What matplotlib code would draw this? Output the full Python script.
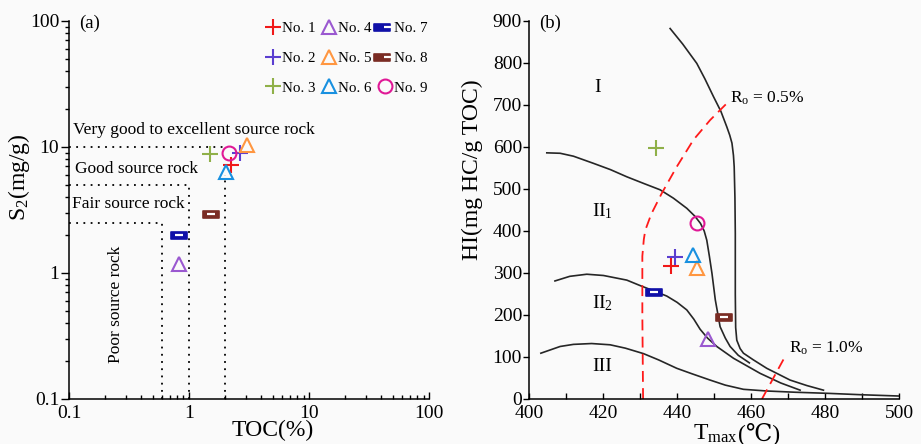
import matplotlib
matplotlib.use('Agg')
import matplotlib.pyplot as plt
from matplotlib.path import Path
from matplotlib.ticker import LogLocator, MultipleLocator, NullFormatter
from matplotlib.legend_handler import HandlerTuple

plt.rcParams['font.family'] = ['Liberation Serif', 'DejaVu Serif', 'DejaVu Sans']
plt.rcParams['mathtext.fontset'] = 'custom'
plt.rcParams['mathtext.rm'] = 'Liberation Serif'
plt.rcParams['mathtext.it'] = 'Liberation Serif:italic'

# samples
names = ['No. 1', 'No. 2', 'No. 3', 'No. 4', 'No. 5', 'No. 6', 'No. 7', 'No. 8', 'No. 9']
toc = [2.22, 2.64, 1.49, 0.82, 3.04, 2.05, 0.83, 1.54, 2.15]      # %
s2 = [7.25, 8.96, 8.87, 1.17, 10.3, 6.32, 1.99, 2.92, 8.96]       # mg/g
tmax = [438.3, 439.3, 434.3, 448.2, 445.3, 444.4, 433.8, 452.7, 445.3]  # degC
hi = [317, 339, 597, 142, 313, 343, 254, 194, 418]               # mg HC/g TOC

# kerogen type boundaries
type1_t = [438.1, 441.5, 445.3, 447.5, 449.8, 451.8, 453.4, 454.2, 454.8, 455.2, 455.4, 455.6,
           455.7, 455.7, 455.8, 456.1, 457.0, 457.9, 460.6, 464.2, 470.5, 475.0, 479.5]
type1_hi = [882, 845, 799, 762, 720, 685, 648, 628, 609, 580, 553, 480,
            394, 250, 170, 140, 120, 109, 93, 73, 45, 32, 21]
type2a_t = [404.8, 408.4, 412.0, 417.4, 422.0, 426.4, 431.0, 435.4, 439.0, 442.6, 444.8, 446.3,
            447.3, 448.0, 448.7, 449.4, 450.3, 451.6, 453.0, 454.3, 456.5, 459.5]
type2a_hi = [586, 585, 578, 561, 546, 529, 513, 498, 478, 454, 435, 418,
             400, 378, 340, 299, 236, 172, 145, 125, 104, 86]
type2b_t = [407.0, 411.0, 415.6, 420.1, 426.4, 430.0, 433.8, 437.2, 440.0, 442.6, 444.5, 446.2,
            448.2, 450.7, 455.2, 462.4, 468.0, 473.2]
type2b_hi = [281, 292, 297, 294, 283, 270, 257, 245, 230, 212, 190, 166,
             145, 125, 97, 61, 38, 21]
type3_t = [403.2, 408.4, 412.0, 416.9, 421.9, 426.0, 430.9, 435.0, 439.9, 444.0, 448.9, 453.0,
           457.9, 464.2, 472.0, 480.5, 490.0, 500.0]
type3_hi = [109, 125, 130, 132, 129, 121, 108, 93, 73, 60, 45, 33,
            23, 19, 16, 13.5, 10, 7]
# vitrinite reflectance lines
ro05_t = [430.8, 430.6, 430.6, 431.0, 431.4, 433.0, 435.8, 439.9, 444.4, 448.9, 453.2]
ro05_hi = [0, 200, 340, 380, 402, 440, 489, 553, 617, 664, 702]
ro10_t = [462.9, 468.7]
ro10_hi = [0, 94]

# source rock grade limits in plot (a)
grade_toc = [0.6, 1.0, 2.0]
grade_s2 = [2.5, 5.0, 10.0]

# styles
rect = Path([(-1, -0.42), (1, -0.42), (1, 0.42), (-1, 0.42), (-1, -0.42)],
            [Path.MOVETO, Path.LINETO, Path.LINETO, Path.LINETO, Path.CLOSEPOLY])
styles = [
    dict(marker='+', color='#f01818'),
    dict(marker='+', color='#5a3ed0'),
    dict(marker='+', color='#8fb048'),
    dict(marker='^', color='#9a58d0'),
    dict(marker='^', color='#ff9640'),
    dict(marker='^', color='#1890e0'),
    dict(marker=rect, color='#1010a8'),
    dict(marker=rect, color='#7a2c24'),
    dict(marker='o', color='#e01896'),
]

bg = '#fafafa'
fig = plt.figure(figsize=(9.21, 4.44), dpi=100, facecolor=bg)
ax1 = fig.add_axes([0.0749, 0.1014, 0.3909, 0.8514])
ax2 = fig.add_axes([0.5744, 0.1014, 0.4021, 0.8514])


def draw_sample(ax, x, y, st):
    if st['marker'] is rect:
        h1, = ax.plot([x], [y], linestyle='none', marker=rect, markersize=12,
                      markerfacecolor=st['color'], markeredgecolor=st['color'], markeredgewidth=1.2)
        h2, = ax.plot([x], [y], linestyle='none', marker='_', markersize=6,
                      markeredgecolor='white', markeredgewidth=1.6)
        return (h1, h2)
    if st['marker'] == '+':
        h, = ax.plot([x], [y], linestyle='none', marker='+', markersize=11,
                     markeredgecolor=st['color'], markeredgewidth=1.5)
    else:
        h, = ax.plot([x], [y], linestyle='none', marker=st['marker'], markersize=10,
                     markerfacecolor='none', markeredgecolor=st['color'], markeredgewidth=1.5)
    return h


for ax in (ax1, ax2):
    ax.set_facecolor('none')
    ax.spines['top'].set_visible(False)
    ax.spines['right'].set_visible(False)
    ax.spines['left'].set_linewidth(1.1)
    ax.spines['bottom'].set_linewidth(1.1)

# ---------- (a) TOC vs S2 ----------
ax1.set_xscale('log')
ax1.set_yscale('log')
ax1.set_xlim(0.1, 100)
ax1.set_ylim(0.1, 100)

dot = dict(color='black', linestyle=(0, (1, 3)), linewidth=1.3)
ax1.plot([0.1, grade_toc[0]], [grade_s2[0], grade_s2[0]], **dot)
ax1.plot([0.1, grade_toc[1]], [grade_s2[1], grade_s2[1]], **dot)
ax1.plot([0.1, grade_toc[2]], [grade_s2[2], grade_s2[2]], **dot)
ax1.plot([grade_toc[0], grade_toc[0]], [0.1, grade_s2[0]], **dot)
ax1.plot([grade_toc[1], grade_toc[1]], [0.1, grade_s2[1]], **dot)
ax1.plot([grade_toc[2], grade_toc[2]], [0.1, 6.0], **dot)

handles = []
for x, y, st in zip(toc, s2, styles):
    handles.append(draw_sample(ax1, x, y, st))

ax1.text(0.012, 0.712, 'Very good to excellent source rock', transform=ax1.transAxes,
         fontsize=12.5, va='center', ha='left')
ax1.text(0.017, 0.608, 'Good source rock', transform=ax1.transAxes,
         fontsize=12.5, va='center', ha='left')
ax1.text(0.007, 0.516, 'Fair source rock', transform=ax1.transAxes,
         fontsize=12.5, va='center', ha='left')
ax1.text(0.131, 0.249, 'Poor source rock', transform=ax1.transAxes,
         fontsize=12.5, va='center', ha='center', rotation=90)
ax1.text(0.028, 0.995, '(a)', transform=ax1.transAxes, fontsize=13.5, va='center', ha='left')

ax1.set_xticks([0.1, 1, 10, 100])
ax1.set_xticklabels(['0.1', '1', '10', '100'])
ax1.set_yticks([0.1, 1, 10, 100])
ax1.set_yticklabels(['0.1', '1', '10', '100'])
ax1.xaxis.set_minor_locator(LogLocator(base=10, subs=range(2, 10)))
ax1.yaxis.set_minor_locator(LogLocator(base=10, subs=range(2, 10)))
ax1.xaxis.set_minor_formatter(NullFormatter())
ax1.yaxis.set_minor_formatter(NullFormatter())
ax1.tick_params(axis='x', which='major', direction='in', length=5, width=1, labelsize=14, pad=4)
ax1.tick_params(axis='x', which='minor', direction='in', length=3, width=1)
ax1.tick_params(axis='y', which='major', direction='out', length=6, width=1, labelsize=14, pad=1)
ax1.tick_params(axis='y', which='minor', direction='out', length=3, width=1)

ax1.set_xlabel('TOC(%)', fontsize=17)
ax1.xaxis.set_label_coords(0.567, -0.055)
ax1.set_ylabel('S$_2$(mg/g)', fontsize=17)
ax1.yaxis.set_label_coords(-0.103, 0.587)

ax1.legend(handles, names, ncol=3, loc='upper right', bbox_to_anchor=(0.997, 0.998),
           frameon=False, fontsize=10.8, handlelength=0.9, handletextpad=0.17,
           columnspacing=0.42, labelspacing=1.08, borderpad=0, borderaxespad=0,
           handler_map={tuple: HandlerTuple(ndivide=None)})

# ---------- (b) Tmax vs HI ----------
ax2.set_xlim(400, 500)
ax2.set_ylim(0, 900)

curve = dict(color='#262626', linewidth=1.2)
ax2.plot(type1_t, type1_hi, **curve)
ax2.plot(type2a_t, type2a_hi, **curve)
ax2.plot(type2b_t, type2b_hi, **curve)
ax2.plot(type3_t, type3_hi, **curve)
dash = dict(color='#ff1a1a', linewidth=1.3, linestyle=(0, (6, 3.5)))
ax2.plot(ro05_t, ro05_hi, **dash)
ax2.plot(ro10_t, ro10_hi, **dash)

for x, y, st in zip(tmax, hi, styles):
    draw_sample(ax2, x, y, st)

ax2.text(418.6, 742, 'I', fontsize=14, ha='center', va='center')
ax2.text(419.8, 446, 'II$_1$', fontsize=14, ha='center', va='center')
ax2.text(419.8, 228, 'II$_2$', fontsize=14, ha='center', va='center')
ax2.text(419.8, 77, 'III', fontsize=14, ha='center', va='center')
ax2.text(454.3, 716, 'R$_{\\rm o}$ = 0.5%', fontsize=12.5, ha='left', va='center')
ax2.text(470.3, 121, 'R$_{\\rm o}$ = 1.0%', fontsize=12.5, ha='left', va='center')
ax2.text(0.028, 0.995, '(b)', transform=ax2.transAxes, fontsize=13.5, va='center', ha='left')

ax2.xaxis.set_major_locator(MultipleLocator(20))
ax2.xaxis.set_minor_locator(MultipleLocator(10))
ax2.yaxis.set_major_locator(MultipleLocator(100))
ax2.tick_params(axis='x', which='both', direction='in', length=4, width=1, labelsize=14, pad=4)
ax2.tick_params(axis='y', which='major', direction='out', length=4, width=1, labelsize=14, pad=1)

# x label in two parts: mathtext for the subscript, plain text so the degree sign can fall back
ax2.text(0.564, -0.108, 'T$_{\\rm max}$', transform=ax2.transAxes, fontsize=17,
         ha='right', va='baseline')
ax2.text(0.564, -0.108, '(\u2103)', transform=ax2.transAxes, fontsize=17,
         ha='left', va='baseline', family=['Liberation Serif', 'DejaVu Serif', 'DejaVu Sans'])
ax2.set_ylabel('HI(mg HC/g TOC)', fontsize=17)
ax2.yaxis.set_label_coords(-0.124, 0.606)

fig.savefig('out.png', dpi=100, facecolor=bg)
